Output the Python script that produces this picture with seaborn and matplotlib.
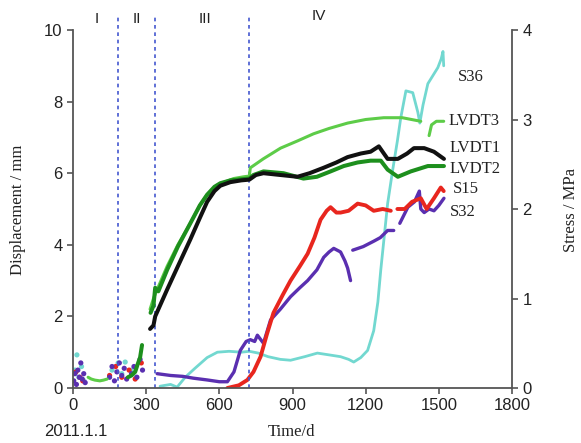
import numpy as np
import pandas as pd
import matplotlib
matplotlib.use("Agg")
import matplotlib.pyplot as plt
import seaborn as sns

# ---------------- data ----------------
# Displacements (mm), left axis
lvdt1_days = [316, 330, 337, 386, 430, 481, 520, 550, 580, 604, 645, 690, 723, 750, 781, 850, 920,
              970, 1027, 1080, 1126, 1180, 1220, 1254, 1290, 1332, 1370, 1398, 1440, 1480, 1521]
lvdt1_vals = [1.65, 1.75, 2.0, 2.75, 3.4, 4.15, 4.75, 5.2, 5.5, 5.65, 5.75, 5.8, 5.82, 5.95, 6.0, 5.95, 5.9,
              6.0, 6.15, 6.3, 6.45, 6.55, 6.6, 6.75, 6.4, 6.4, 6.55, 6.7, 6.7, 6.6, 6.4]

lvdt2_early_days = [225, 240, 255, 267, 275, 283]
lvdt2_early_vals = [0.3, 0.35, 0.45, 0.7, 0.85, 1.2]
lvdt2_days = [318, 330, 337, 350, 386, 430, 481, 520, 550, 580, 604, 645, 690, 723, 740, 781, 863,
              945, 1000, 1056, 1110, 1167, 1220, 1262, 1290, 1332, 1385, 1455, 1521]
lvdt2_vals = [2.1, 2.3, 2.8, 2.7, 3.3, 3.95, 4.6, 5.1, 5.4, 5.62, 5.72, 5.8, 5.83, 5.85, 5.95, 6.05, 6.0,
              5.85, 5.9, 6.05, 6.2, 6.3, 6.35, 6.35, 6.1, 5.9, 6.05, 6.2, 6.2]

lvdt3_early_days = [62, 75, 90, 110, 125, 140]
lvdt3_early_vals = [0.3, 0.25, 0.22, 0.2, 0.22, 0.25]
lvdt3_days = [316, 330, 345, 386, 430, 481, 520, 550, 604, 658, 700, 723, 727, 780, 851, 920, 986,
              1050, 1126, 1200, 1274, 1350, 1426]
lvdt3_vals = [2.2, 2.5, 2.75, 3.4, 4.0, 4.6, 5.1, 5.4, 5.7, 5.85, 5.9, 5.92, 6.15, 6.4, 6.7, 6.9, 7.1,
              7.25, 7.4, 7.5, 7.55, 7.55, 7.45]
lvdt3_end_days = [1460, 1470, 1490, 1520]
lvdt3_end_vals = [7.05, 7.35, 7.45, 7.45]

# Stresses (MPa), right axis
s36_days = [357, 400, 427, 460, 500, 550, 592, 640, 690, 723, 760, 800, 850, 892, 950, 1002, 1050,
            1097, 1130, 1151, 1180, 1208, 1233, 1250, 1262, 1290, 1311, 1330, 1344, 1365, 1393,
            1414, 1422, 1435, 1455, 1496, 1510, 1517, 1520]
s36_vals = [0.02, 0.04, 0.01, 0.12, 0.22, 0.34, 0.40, 0.41, 0.40, 0.41, 0.39, 0.35, 0.32, 0.31, 0.35,
            0.39, 0.37, 0.35, 0.32, 0.29, 0.34, 0.42, 0.64, 0.96, 1.32, 2.06, 2.44, 2.76, 3.02, 3.32,
            3.3, 3.08, 2.96, 3.16, 3.4, 3.58, 3.68, 3.76, 3.6]

s15_days = [633, 680, 715, 740, 769, 795, 822, 860, 892, 930, 962, 990, 1015, 1040, 1056, 1080,
            1097, 1130, 1167, 1200, 1233, 1270, 1303]
s15_vals = [0.0, 0.03, 0.09, 0.18, 0.35, 0.6, 0.84, 1.04, 1.2, 1.36, 1.5, 1.68, 1.88, 1.98, 2.02,
            1.96, 1.96, 1.98, 2.06, 2.04, 1.98, 2.0, 1.98]
s15_end_days = [1330, 1360, 1390, 1426, 1450, 1480, 1508, 1520]
s15_end_vals = [2.0, 2.0, 2.08, 2.12, 2.0, 2.12, 2.24, 2.2]

s32_days = [345, 400, 450, 493, 550, 600, 633, 660, 686, 710, 727, 745, 756, 781, 810, 850, 892,
            930, 962, 1000, 1028, 1050, 1069, 1097, 1115, 1126, 1138]
s32_vals = [0.16, 0.14, 0.13, 0.11, 0.09, 0.07, 0.07, 0.18, 0.42, 0.52, 0.54, 0.52, 0.59, 0.5, 0.76,
            0.88, 1.02, 1.12, 1.2, 1.32, 1.46, 1.52, 1.56, 1.52, 1.42, 1.34, 1.2]
s32_mid_days = [1147, 1190, 1233, 1260, 1290, 1315]
s32_mid_vals = [1.54, 1.58, 1.64, 1.68, 1.76, 1.76]
s32_end_days = [1340, 1373, 1400, 1420, 1426, 1440, 1460, 1480, 1500, 1521]
s32_end_vals = [1.84, 2.02, 2.08, 2.2, 2.0, 1.96, 2.0, 1.98, 2.04, 2.12]

# early scattered readings (stages I and II), MPa
s32_early_days = [3, 8, 14, 20, 26, 32, 38, 44, 50, 150, 160, 170, 180, 190, 200, 210, 220, 240,
                  250, 262, 275, 285]
s32_early_vals = [0.08, 0.16, 0.04, 0.2, 0.12, 0.28, 0.1, 0.16, 0.06, 0.12, 0.24, 0.08, 0.18, 0.28,
                  0.14, 0.22, 0.1, 0.16, 0.24, 0.12, 0.32, 0.2]
s36_early_days = [8, 16, 24, 35, 45, 160, 185, 200, 214, 240, 260]
s36_early_vals = [0.2, 0.37, 0.12, 0.24, 0.08, 0.2, 0.28, 0.16, 0.29, 0.2, 0.12]
s15_early_days = [12, 28, 40, 150, 175, 200, 230, 255, 280]
s15_early_vals = [0.18, 0.12, 0.08, 0.14, 0.24, 0.12, 0.2, 0.1, 0.28]

stage_bounds = [185, 337, 723]
stage_labels = ["I", "II", "III", "IV"]
stage_label_days = [98, 263, 542, 1007]
x_ticks = [0, 300, 600, 900, 1200, 1500, 1800]

colors = {"LVDT1": "#111111", "LVDT2": "#1d8f1d", "LVDT3": "#5dcc48",
          "S15": "#e8261e", "S32": "#5a2fb0", "S36": "#72d8d0"}
widths = {"LVDT1": 2.9, "LVDT2": 2.9, "LVDT3": 2.2,
          "S15": 2.8, "S32": 2.4, "S36": 2.0}

# ---------------- build tables ----------------
def seg(name, seg_id, d, v):
    return pd.DataFrame({"day": d, "val": v, "series": name, "seg": f"{name}-{seg_id}"})

disp = pd.concat([
    seg("LVDT3", 0, lvdt3_early_days, lvdt3_early_vals),
    seg("LVDT3", 1, lvdt3_days, lvdt3_vals),
    seg("LVDT3", 2, lvdt3_end_days, lvdt3_end_vals),
    seg("LVDT2", 0, lvdt2_early_days, lvdt2_early_vals),
    seg("LVDT2", 1, lvdt2_days, lvdt2_vals),
    seg("LVDT1", 1, lvdt1_days, lvdt1_vals),
], ignore_index=True)

stress = pd.concat([
    seg("S36", 1, s36_days, s36_vals),
    seg("S32", 1, s32_days, s32_vals),
    seg("S32", 2, s32_mid_days, s32_mid_vals),
    seg("S32", 3, s32_end_days, s32_end_vals),
    seg("S15", 1, s15_days, s15_vals),
    seg("S15", 2, s15_end_days, s15_end_vals),
], ignore_index=True)

early = pd.concat([
    seg("S36", 0, s36_early_days, s36_early_vals),
    seg("S15", 0, s15_early_days, s15_early_vals),
    seg("S32", 0, s32_early_days, s32_early_vals),
], ignore_index=True)

# ---------------- plot ----------------
sns.set_style("ticks")
plt.rcParams["font.family"] = ["Liberation Sans", "DejaVu Sans"]
serif = ["Liberation Serif", "DejaVu Serif"]

fig = plt.figure(figsize=(5.81, 4.43), dpi=100)
ax = fig.add_axes([73 / 581, 55 / 443, (512 - 73) / 581, (388 - 30) / 443])
ax2 = ax.twinx()

sns.lineplot(data=stress, x="day", y="val", hue="series", size="series", sizes=widths,
             units="seg", estimator=None, palette=colors, legend=False, ax=ax2, sort=False)
sns.scatterplot(data=early, x="day", y="val", hue="series", palette=colors, s=14,
                linewidth=0, legend=False, ax=ax2)
sns.lineplot(data=disp, x="day", y="val", hue="series", size="series", sizes=widths,
             units="seg", estimator=None, palette=colors, legend=False, ax=ax, sort=False)

# displacement axis on top so its lines overlay
ax.set_zorder(ax2.get_zorder() + 1)
ax.patch.set_visible(False)

for b in stage_bounds:
    ax.axvline(b, ymin=0, ymax=1.04, color="#4458d0", lw=1.2, ls=(0, (2.2, 2.2)),
               clip_on=False, zorder=0)
for lab, d in zip(stage_labels, stage_label_days):
    ax.text(d, 10.3 if lab != "IV" else 10.4, lab, ha="center", va="center", fontsize=11,
            color="#222222")

ax.set_xlim(0, 1800)
ax.set_ylim(0, 10)
ax2.set_ylim(0, 4)
ax.set_xticks(x_ticks)
ax.set_yticks([0, 2, 4, 6, 8, 10])
ax2.set_yticks([0, 1, 2, 3, 4])

spine_c = "#555555"
for a in (ax, ax2):
    a.spines["top"].set_visible(False)
    for s in a.spines.values():
        s.set_color(spine_c)
        s.set_linewidth(1.3)
    a.tick_params(colors="#222222", labelsize=12, length=4, width=1.2, direction="out")
    a.tick_params(axis="both", color=spine_c)
ax.spines["right"].set_visible(False)
ax2.spines["left"].set_visible(False)
ax2.spines["bottom"].set_visible(False)

ax.set_xlabel("")
ax.set_ylabel("")
ax2.set_ylabel("")
ax2.set_xlabel("")
fig.text(18 / 581, 1 - 210 / 443, "Displacement / mm", rotation=90, ha="center", va="center",
         fontsize=12, family=serif, color="#222222")
fig.text(571 / 581, 1 - 210 / 443, "Stress / MPa", rotation=90, ha="center", va="center",
         fontsize=12, family=serif, color="#222222")
fig.text(291 / 581, 1 - 432 / 443, "Time/d", ha="center", va="center",
         fontsize=12, family=serif, color="#222222")
fig.text(76 / 581, 1 - 431 / 443, "2011.1.1", ha="center", va="center", fontsize=12,
         color="#222222")

# series labels
labels = [("S36", 1578, 8.7), ("LVDT3", 1541, 7.47), ("LVDT1", 1545, 6.7),
          ("LVDT2", 1545, 6.13), ("S15", 1558, 5.57), ("S32", 1545, 4.93)]
for name, d, y in labels:
    ax.text(d, y, name, ha="left", va="center", fontsize=12, family=serif, color="#222222")

fig.savefig("out.png", dpi=100)
